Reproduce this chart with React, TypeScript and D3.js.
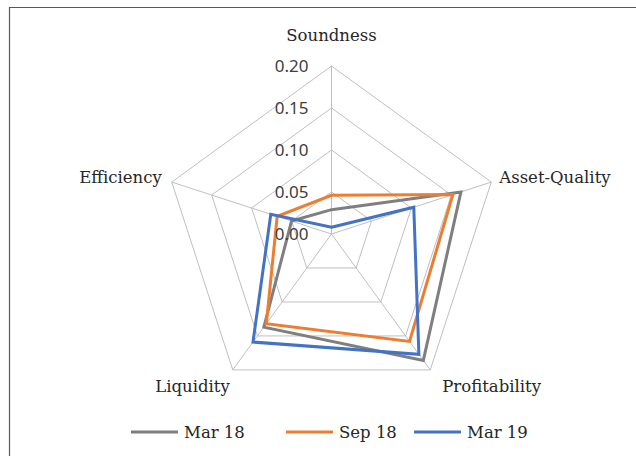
import * as d3 from 'd3';

const axes = ['Soundness', 'Asset-Quality', 'Profitability', 'Liquidity', 'Efficiency'];
const seriesNames = ['Mar 18', 'Sep 18', 'Mar 19'];
const seriesColors = ['#7f7f7f', '#ed7d31', '#4472c4'];
const mar18 = [0.029, 0.162, 0.186, 0.137, 0.05];
const sep18 = [0.046, 0.152, 0.158, 0.132, 0.068];
const mar19 = [0.008, 0.103, 0.177, 0.159, 0.076];
const ticks = [0, 0.05, 0.1, 0.15, 0.2];

const W = 636;
const H = 456;
const cx = 331.5;
const cy = 234;
const R = 168;

export default function App() {
  const r = d3.scaleLinear().domain([0, 0.2]).range([0, R]);
  const angle = d3.scaleLinear().domain([0, axes.length]).range([0, 2 * Math.PI]);
  const pt = (i: number, v: number): [number, number] => {
    const a = angle(i);
    return [cx + r(v) * Math.sin(a), cy - r(v) * Math.cos(a)];
  };

  const radial = d3
    .lineRadial<number>()
    .angle((_, i) => angle(i))
    .radius(d => r(d))
    .curve(d3.curveLinearClosed);

  const data = [mar18, sep18, mar19];

  // label placement around the outer ring
  const labelPos = [
    { dx: 0, dy: -31, anchor: 'middle' },
    { dx: 8, dy: -5, anchor: 'start' },
    { dx: 12, dy: 16, anchor: 'start' },
    { dx: -3, dy: 16, anchor: 'end' },
    { dx: -10, dy: -5, anchor: 'end' },
  ];

  const legendX = [131, 286, 414];

  return (
    <svg
      width={W}
      height={H}
      style={{ position: 'absolute', left: 0, top: 0, display: 'block', background: '#fff' }}
    >
      <path d={`M9.5,${H} V7.5 H${W}`} fill="none" stroke="#595959" strokeWidth={1.2} />

      {ticks.map(t => (
        <polygon
          key={t}
          points={axes.map((_, i) => pt(i, t).join(',')).join(' ')}
          fill="none"
          stroke="#bfbfbf"
          strokeWidth={1}
        />
      ))}
      {axes.map((_, i) => {
        const [x, y] = pt(i, 0.2);
        return <line key={i} x1={cx} y1={cy} x2={x} y2={y} stroke="#bfbfbf" strokeWidth={1} />;
      })}

      {data.map((d, k) => (
        <path
          key={k}
          d={radial(d) || ''}
          transform={`translate(${cx},${cy})`}
          fill="none"
          stroke={seriesColors[k]}
          strokeWidth={3}
          strokeLinejoin="miter"
        />
      ))}

      {ticks.map(t => (
        <text
          key={t}
          x={cx - 23}
          y={r.invert ? cy - r(t) : 0}
          dy="0.36em"
          textAnchor="end"
          fontFamily="Noto Sans"
          fontSize={17}
          fill="#404040"
        >
          {t.toFixed(2)}
        </text>
      ))}

      {axes.map((name, i) => {
        const [x, y] = pt(i, 0.2);
        const p = labelPos[i];
        return (
          <text
            key={name}
            x={x + p.dx}
            y={y + p.dy}
            dy="0.35em"
            textAnchor={p.anchor}
            fontFamily="DejaVu Serif"
            fontSize={16.5}
            fill="#262626"
          >
            {name}
          </text>
        );
      })}

      {seriesNames.map((name, k) => (
        <g key={name} transform={`translate(${legendX[k]},432)`}>
          <line x1={0} x2={47} y1={0} y2={0} stroke={seriesColors[k]} strokeWidth={3} />
          <text x={53} y={0} dy="0.35em" fontFamily="DejaVu Serif" fontSize={16.5} fill="#262626">
            {name}
          </text>
        </g>
      ))}
    </svg>
  );
}
